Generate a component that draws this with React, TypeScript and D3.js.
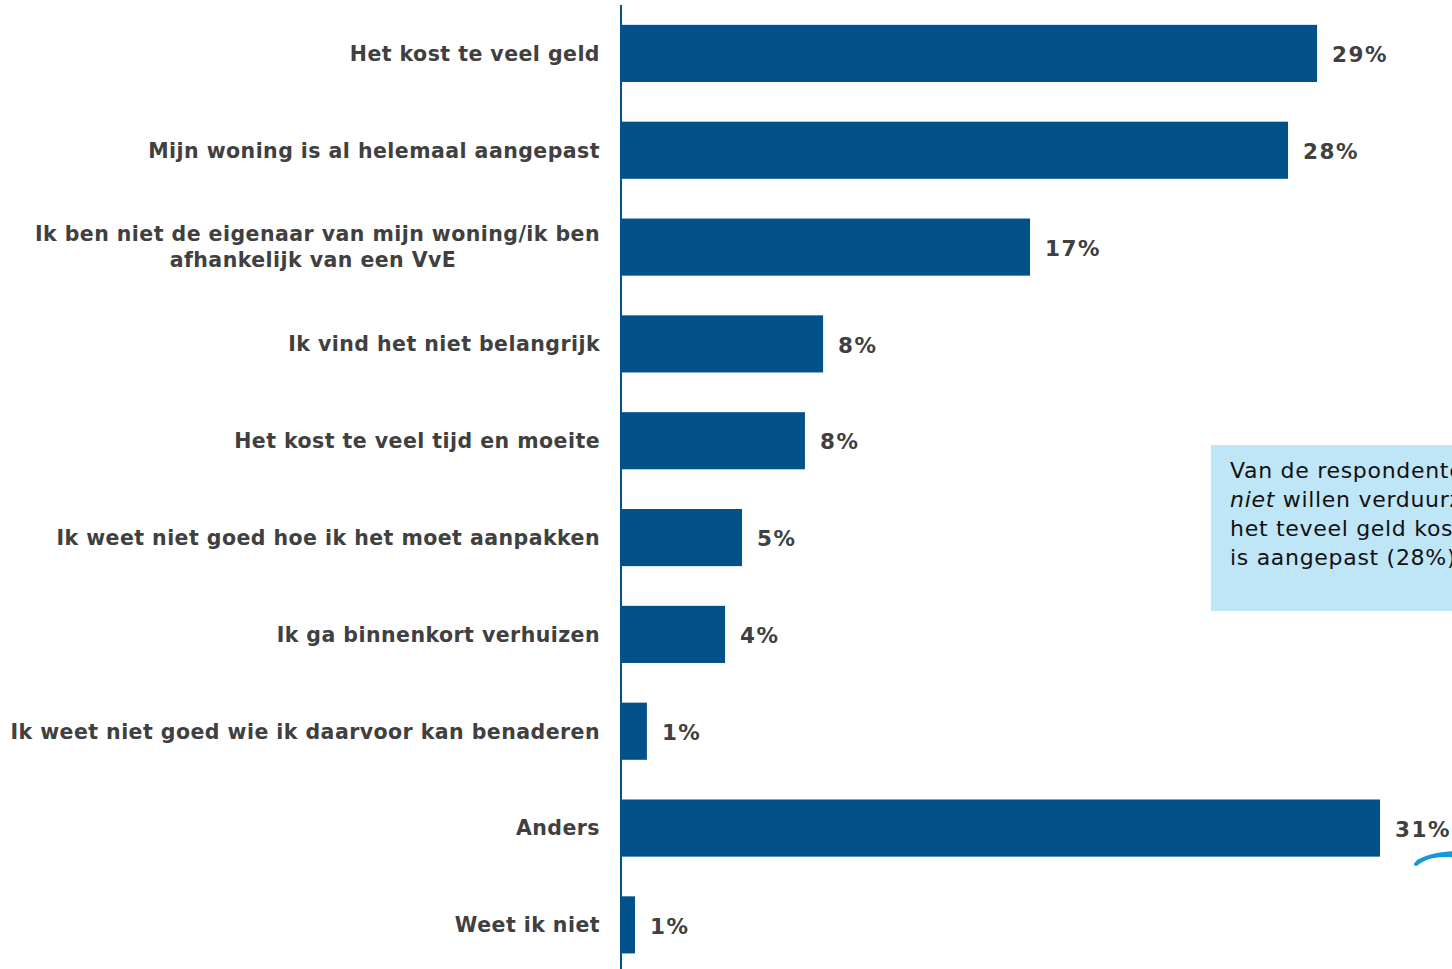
import React from "react";
import * as d3 from "d3";

const categories: string[][] = [
  ["Het kost te veel geld"],
  ["Mijn woning is al helemaal aangepast"],
  ["Ik ben niet de eigenaar van mijn woning/ik ben", "afhankelijk van een VvE"],
  ["Ik vind het niet belangrijk"],
  ["Het kost te veel tijd en moeite"],
  ["Ik weet niet goed hoe ik het moet aanpakken"],
  ["Ik ga binnenkort verhuizen"],
  ["Ik weet niet goed wie ik daarvoor kan benaderen"],
  ["Anders"],
  ["Weet ik niet"],
];
const values: number[] = [28.76, 27.56, 16.9, 8.35, 7.6, 5.0, 4.3, 1.07, 31.36, 0.58];
const valueLabels: string[] = ["29%", "28%", "17%", "8%", "8%", "5%", "4%", "1%", "31%", "1%"];
const calloutLines: { text: string; italic?: string }[] = [
  { text: "Van de respondenten die hun woning" },
  { italic: "niet", text: " willen verduurzamen, geeft 29% aan dat" },
  { text: "het teveel geld kost of dat hun woning al" },
  { text: "is aangepast (28%)." },
];

const W = 1452;
const H = 969;
const BAR = "#02518a";
const TXT = "#404040";

export default function App() {
  const idx = categories.map((_, i) => String(i));
  const y = d3.scaleBand<string>().domain(idx).range([5, 973.3]).paddingInner(0.41).paddingOuter(0.205);
  const x = d3.scaleLinear().domain([0, 31.36]).range([621, 1380]);
  const font = "'DejaVu Sans', Verdana, sans-serif";
  return (
    <div style={{ position: "absolute", left: 0, top: 0, width: W, height: H, overflow: "hidden", background: "#fff" }}>
      <svg width={W} height={H} style={{ display: "block" }}>
        {values.map((v, i) => {
          const y0 = y(String(i))!;
          const bw = y.bandwidth();
          const cy = y0 + bw / 2;
          const lines = categories[i];
          const lh = 26;
          return (
            <g key={i}>
              <rect x={x(0)} y={y0} width={x(v) - x(0)} height={bw} fill={BAR} />
              <text
                x={x(v) + 15}
                y={cy + 1}
                dy="0.36em"
                fontFamily={font}
                fontWeight="bold"
                fontSize={21.5}
                letterSpacing={1.5}
                fill={TXT}
              >
                {valueLabels[i]}
              </text>
              {lines.map((l, j) => (
                <text
                  key={j}
                  x={600}
                  y={cy + (j - (lines.length - 1) / 2) * lh}
                  dy="0.36em"
                  textAnchor={lines.length > 1 && j > 0 ? "middle" : "end"}
                  dx={lines.length > 1 && j > 0 ? -287 : 0}
                  fontFamily={font}
                  fontWeight="bold"
                  fontSize={20.5}
                  letterSpacing={0.45}
                  fill={TXT}
                >
                  {l}
                </text>
              ))}
            </g>
          );
        })}
        <line x1={621} x2={621} y1={5} y2={H} stroke={BAR} strokeWidth={2} />
        <rect x={1211} y={445} width={400} height={166} fill="#bee6f6" />
        {calloutLines.map((l, i) => (
          <text key={i} x={1230} y={470 + i * 29} dy="0.36em" fontFamily={font} fontSize={22} letterSpacing={0.7} fill="#111">
            {l.italic ? <tspan fontStyle="italic">{l.italic}</tspan> : null}
            {l.text}
          </text>
        ))}
        <path
          d="M1416,864 C1425,856 1440,853 1460,853"
          fill="none"
          stroke="#159ad8"
          strokeWidth={4}
          strokeLinecap="round"
        />
        <path
          d="M1418,861 C1430,855 1445,855 1460,856"
          fill="none"
          stroke="#159ad8"
          strokeWidth={3}
          strokeLinecap="round"
        />
      </svg>
    </div>
  );
}
